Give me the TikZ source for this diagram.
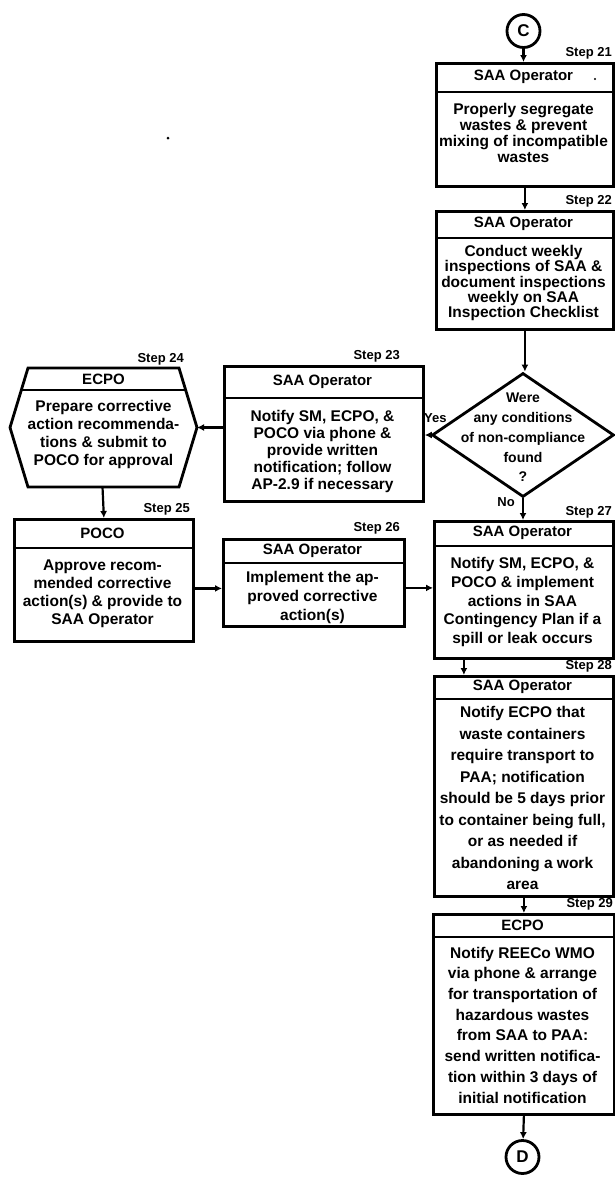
\documentclass[tikz,border=0pt]{standalone}
\usepackage{fontspec}
\setmainfont{Liberation Sans}
\usetikzlibrary{arrows.meta,calc,shapes.geometric}
\begin{document}
\begin{tikzpicture}[x=1pt,y=-1pt,
  frame/.style={draw, line width=2.8pt, anchor=north west, inner sep=0pt},
  rule/.style={line width=2.3pt},
  head/.style={inner sep=0pt, font=\fontsize{15}{15}\bfseries\selectfont},
  body/.style={align=center, inner sep=0pt, font=\fontsize{15.5}{#1}\bfseries\selectfont},
  steplbl/.style={anchor=base east, inner sep=0pt, font=\fontsize{13}{13}\bfseries\selectfont},
  answer/.style={inner sep=0pt, font=\fontsize{13}{13}\bfseries\selectfont},
  conn/.style={line width=2.2pt, -{Latex[length=7pt,width=7pt]}},
  offpage/.style={draw, circle, line width=2.8pt, minimum size=33pt, inner sep=0pt,
                  font=\fontsize{17}{17}\bfseries\selectfont},
]
\useasboundingbox (0,0) rectangle (615,1181);

% off-page connector C
\node[offpage] (C) at (523.5,31) {C};

% Step 21
\node[frame, minimum width=177pt, minimum height=123pt] (b21) at (435,62) {};
\draw[rule] (435,92) -- (612,92);
\node[head] (h21) at (523.5,77) {SAA Operator};
\node[body=16.3] (t21) at (523.5,133) {Properly segregate\\wastes \& prevent\\mixing of incompatible\\wastes};
\node[steplbl] (s21) at (612,56) {Step 21};

% Step 22
\node[frame, minimum width=177pt, minimum height=118pt] (b22) at (435,210) {};
\draw[rule] (435,238) -- (612,238);
\node[head] (h22) at (523.5,224) {SAA Operator};
\node[body=15.2] (t22) at (523.5,283) {Conduct weekly\\inspections of SAA \&\\document inspections\\weekly on SAA\\Inspection Checklist};
\node[steplbl] (s22) at (612,204) {Step 22};

% decision
\node[draw, diamond, line width=2.8pt, minimum width=182pt, minimum height=124pt, inner sep=0pt] (dec) at (523,435) {};
\node[align=center, inner sep=0pt, font=\fontsize{14}{19.7}\bfseries\selectfont] (tdec) at (523,437.5) {Were\\any conditions\\of non-compliance\\found\\?};
\node[answer, anchor=west] (yes) at (424,418) {Yes};
\node[answer, anchor=east] (no) at (515,502) {No};

% Step 23
\node[frame, minimum width=199pt, minimum height=135pt] (b23) at (223,365) {};
\draw[rule] (223,398) -- (422,398);
\node[head] (h23) at (322.5,381.5) {SAA Operator};
\node[body=17] (t23) at (322.5,451) {Notify SM, ECPO, \&\\POCO via phone \&\\provide written\\notification; follow\\AP-2.9 if necessary};
\node[steplbl] (s23) at (400,359) {Step 23};

% Step 24 (six-sided box)
\coordinate (hexl) at (10,427.5);
\coordinate (hexr) at (197,427.5);
\coordinate (hexb) at (102.5,487);
\draw[line width=2.8pt, line join=miter] (hexl) -- (28,368) -- (179,368) -- (hexr) -- (179,487) -- (28,487) -- cycle;
\draw[rule] (21.6,390) -- (185.4,390);
\node[head] (h24) at (103.5,379.5) {ECPO};
\node[body=18] (t24) at (103.5,434) {Prepare corrective\\action recommenda-\\tions \& submit to\\POCO for approval};
\node[steplbl] (s24) at (184,362) {Step 24};

% Step 25
\node[frame, minimum width=179pt, minimum height=122pt] (b25) at (13,518) {};
\draw[rule] (13,548) -- (192,548);
\node[head] (h25) at (102.5,533) {POCO};
\node[body=18] (t25) at (102.5,594) {Approve recom-\\mended corrective\\action(s) \& provide to\\SAA Operator};
\node[steplbl] (s25) at (190,512) {Step 25};

% Step 26
\node[frame, minimum width=181pt, minimum height=87pt] (b26) at (222,538) {};
\draw[rule] (222,563) -- (403,563);
\node[head] (h26) at (312.5,550.5) {SAA Operator};
\node[body=19] (t26) at (312.5,597) {Implement the ap-\\proved corrective\\action(s)};
\node[steplbl] (s26) at (400,531) {Step 26};

% Step 27
\node[frame, minimum width=179pt, minimum height=137pt] (b27) at (433,520) {};
\draw[rule] (433,546) -- (612,546);
\node[head] (h27) at (522.5,533) {SAA Operator};
\node[body=18.8] (t27) at (522.5,602) {Notify SM, ECPO, \&\\POCO \& implement\\actions in SAA\\Contingency Plan if a\\spill or leak occurs};
\node[steplbl] (s27) at (612,515) {Step 27};

% Step 28
\node[frame, minimum width=179pt, minimum height=220pt] (b28) at (433,675) {};
\draw[rule] (433,699) -- (612,699);
\node[head] (h28) at (522.5,687) {SAA Operator};
\node[body=21.5] (t28) at (522.5,798) {Notify ECPO that\\waste containers\\require transport to\\PAA; notification\\should be 5 days prior\\to container being full,\\or as needed if\\abandoning a work\\area};
\node[steplbl] (s28) at (612,669) {Step 28};

% Step 29
\node[frame, minimum width=181pt, minimum height=200pt] (b29) at (432,913) {};
\draw[rule] (432,937) -- (613,937);
\node[head] (h29) at (522.5,925) {ECPO};
\node[body=20.7] (t29) at (522.5,1025) {Notify REECo WMO\\via phone \& arrange\\for transportation of\\hazardous wastes\\from SAA to PAA:\\send written notifica-\\tion within 3 days of\\initial notification};
\node[steplbl] (s29) at (613,907) {Step 29};

% off-page connector D
\node[offpage] (D) at (522.5,1157) {D};

% connectors
\draw[conn] (C) -- (C |- b21.north);
\draw[conn] (b21.south) -- (b22.north);
\draw[conn] (b22.south) -- (b22.south |- dec.north);
\draw[conn] (dec.west) -- (dec.west -| b23.east);
\draw[conn] (b23.west |- hexr) -- (hexr);
\draw[conn] (hexb) -- (b25.north);
\draw[conn] ([yshift=-8pt]b25.east) -- ([yshift=-8pt]b25.east -| b26.west);
\draw[conn] ([yshift=-5pt]b26.east) -- ([yshift=-5pt]b26.east -| b27.west);
\draw[conn] (dec.south) -- (dec.south |- b27.north);
\draw[conn] ([xshift=-60pt]b27.south) -- ([xshift=-60pt]b28.north);
\draw[conn] (b28.south) -- (b29.north);
\draw[conn] (b29.south) -- (D);

% stray marks
\fill (168,138) circle (1.5pt);
\fill (595,79) circle (1.2pt);
\end{tikzpicture}
\end{document}
